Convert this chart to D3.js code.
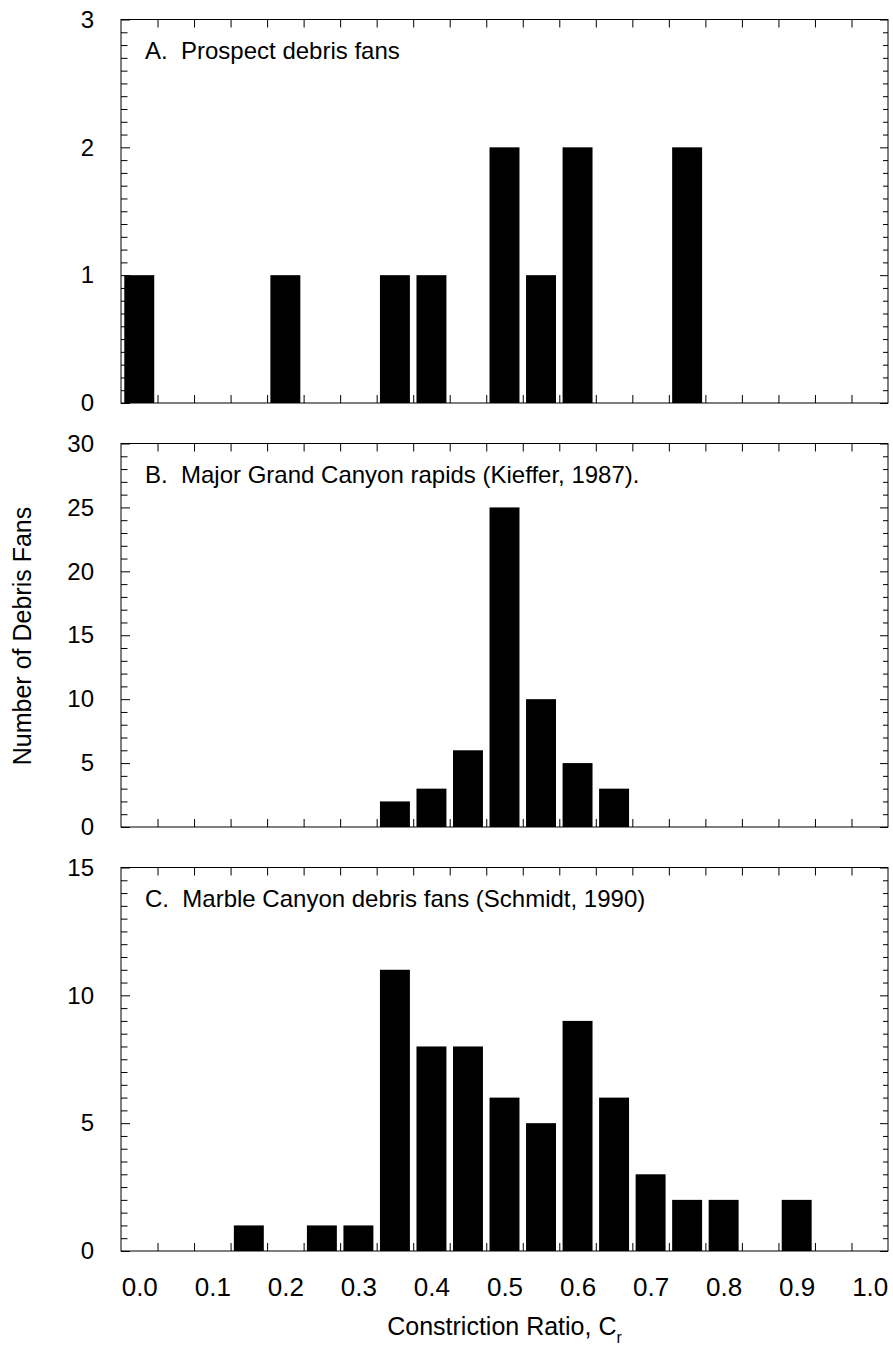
<!DOCTYPE html>
<html>
<head>
<meta charset="utf-8">
<script src="https://cdn.jsdelivr.net/npm/d3@7"></script>
<style>
  html, body { margin: 0; padding: 0; background: #fff; }
  svg { display: block; }
  text { font-family: "Liberation Sans", Arial, Helvetica, sans-serif; fill: #000; }
</style>
</head>
<body>
<svg id="chart" width="893" height="1345"></svg>
<script>
// Constriction-ratio bins (bin centres, width 0.05)
const binCenters = [0.00, 0.05, 0.10, 0.15, 0.20, 0.25, 0.30, 0.35, 0.40, 0.45, 0.50,
                    0.55, 0.60, 0.65, 0.70, 0.75, 0.80, 0.85, 0.90, 0.95, 1.00];

// Number of debris fans in each bin
const prospectCounts = [1, 0, 0, 0, 1, 0, 0, 1, 1, 0, 2, 1, 2, 0, 0, 2, 0, 0, 0, 0, 0];
const kiefferCounts  = [0, 0, 0, 0, 0, 0, 0, 2, 3, 6, 25, 10, 5, 3, 0, 0, 0, 0, 0, 0, 0];
const schmidtCounts  = [0, 0, 0, 1, 0, 1, 1, 11, 8, 8, 6, 5, 9, 6, 3, 2, 2, 0, 2, 0, 0];

// Panel titles
const panelTitles = [
  "A.  Prospect debris fans",
  "B.  Major Grand Canyon rapids (Kieffer, 1987).",
  "C.  Marble Canyon debris fans (Schmidt, 1990)"
];

// Y-axis limits, labelled ticks and minor tick steps per panel
const yMaxima = [3, 30, 15];
const yMajorTicks = [[0, 1, 2, 3], [0, 5, 10, 15, 20, 25, 30], [0, 5, 10, 15]];
const yMinorSteps = [0.1, 1, 0.5];

// X tick labels
const xTickLabels = [0.0, 0.1, 0.2, 0.3, 0.4, 0.5, 0.6, 0.7, 0.8, 0.9, 1.0];

const panels = [prospectCounts, kiefferCounts, schmidtCounts];

const svg = d3.select("#chart");
const left = 121, right = 888;
const panelHeight = 383.5, panelStride = 424, firstTop = 19.5;

// Continuous x scale spans half a bin beyond 0 and 1
const x = d3.scaleLinear().domain([-0.025, 1.025]).range([left, right]);
// Band scale for the bars, one band per bin
const xBand = d3.scaleBand()
  .domain(binCenters.map(d => d.toFixed(2)))
  .range([left, right])
  .paddingInner(0.18)
  .paddingOuter(0.09);

const binEdges = d3.range(1, 21).map(i => -0.025 + i * 0.05);

panels.forEach((counts, p) => {
  const top = firstTop + p * panelStride;
  const bottom = top + panelHeight;
  const y = d3.scaleLinear().domain([0, yMaxima[p]]).range([bottom, top]);
  const g = svg.append("g");

  const minor = d3.range(0, yMaxima[p] + 1e-9, yMinorSteps[p])
    .filter(v => !yMajorTicks[p].some(m => Math.abs(m - v) < 1e-9));

  // Bars
  g.append("g").selectAll("rect")
    .data(binCenters.map((c, i) => ({ c, v: counts[i] })).filter(d => d.v > 0))
    .join("rect")
    .attr("x", d => xBand(d.c.toFixed(2)))
    .attr("width", xBand.bandwidth())
    .attr("y", d => y(d.v))
    .attr("height", d => y(0) - y(d.v))
    .attr("fill", "#000");

  // Left axis: labelled major ticks and minor ticks, all pointing inward
  const leftMajor = g.append("g").attr("transform", `translate(${left},0)`)
    .call(d3.axisLeft(y).tickValues(yMajorTicks[p]).tickSize(-9).tickPadding(27).tickFormat(d3.format("d")));
  leftMajor.selectAll("text").attr("font-size", 24);
  g.append("g").attr("transform", `translate(${left},0)`)
    .call(d3.axisLeft(y).tickValues(minor).tickSize(-6.5).tickFormat(""));

  // Right axis ticks, inward
  g.append("g").attr("transform", `translate(${right},0)`)
    .call(d3.axisRight(y).tickValues(yMajorTicks[p]).tickSize(-8).tickFormat(""));
  g.append("g").attr("transform", `translate(${right},0)`)
    .call(d3.axisRight(y).tickValues(minor).tickSize(-5).tickFormat(""));

  // Top and bottom ticks at bin edges, inward
  g.append("g").attr("transform", `translate(0,${top})`)
    .call(d3.axisTop(x).tickValues(binEdges).tickSize(-8).tickFormat(""));
  g.append("g").attr("transform", `translate(0,${bottom})`)
    .call(d3.axisBottom(x).tickValues(binEdges).tickSize(-8).tickFormat(""));

  // Frame
  g.append("rect")
    .attr("x", left).attr("y", top)
    .attr("width", right - left).attr("height", panelHeight)
    .attr("fill", "none").attr("stroke", "#000").attr("stroke-width", 1);

  g.selectAll(".domain").remove();
  g.selectAll(".tick line").attr("stroke", "#000").attr("stroke-width", 1);

  // Panel title
  g.append("text")
    .attr("x", 145).attr("y", top + 39)
    .attr("font-size", 24)
    .attr("xml:space", "preserve")
    .style("white-space", "pre")
    .text(panelTitles[p]);

  // X tick labels under the bottom panel
  if (p === panels.length - 1) {
    const xa = g.append("g").attr("transform", `translate(0,${bottom})`)
      .call(d3.axisBottom(x).tickValues(xTickLabels).tickSize(0).tickPadding(27).tickFormat(d3.format(".1f")));
    xa.selectAll(".domain").remove();
    xa.selectAll("text").attr("font-size", 26);
  }
});

// Axis titles
const xTitle = svg.append("text")
  .attr("x", x(0.5)).attr("y", 1335)
  .attr("text-anchor", "middle")
  .attr("font-size", 25);
xTitle.append("tspan").text("Constriction Ratio, C");
xTitle.append("tspan").attr("font-size", 16).attr("dy", 8).text("r");

svg.append("text")
  .attr("transform", "translate(31,636) rotate(-90)")
  .attr("text-anchor", "middle")
  .attr("font-size", 25)
  .text("Number of Debris Fans");
</script>
</body>
</html>
